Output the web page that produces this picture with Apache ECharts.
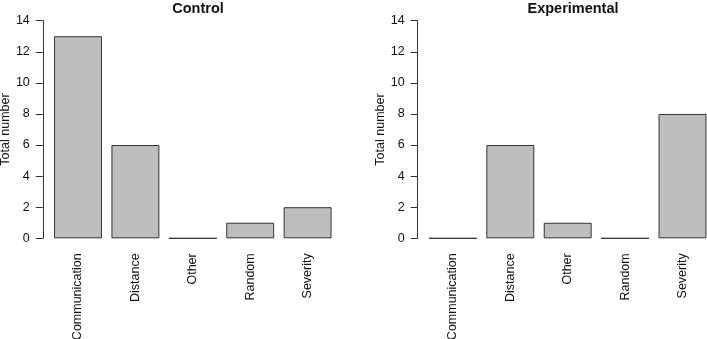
<!DOCTYPE html>
<html>
<head>
<meta charset="utf-8">
<script src="https://cdn.jsdelivr.net/npm/echarts@6/dist/echarts.min.js"></script>
<style>html,body{margin:0;padding:0;background:#fff}#c{width:707px;height:339px}</style>
</head>
<body>
<div id="c"></div>
<script>
const categories = ["Communication", "Distance", "Other", "Random", "Severity"];
const controlValues = [13, 6, 0, 1, 2];
const experimentalValues = [0, 6, 1, 0, 8];
const panelTitles = ["Control", "Experimental"];
const yAxisName = "Total number";

const chart = echarts.init(document.getElementById('c'), null, {renderer: 'canvas'});
const font = '"Liberation Sans", Arial, Helvetica, sans-serif';
const grids = [
  {left: 49.3, top: 20.7, width: 287, height: 217.6, outerBoundsMode: 'none', containLabel: false},
  {left: 424.2, top: 20.7, width: 287, height: 217.6, outerBoundsMode: 'none', containLabel: false}
];
function xAxis(i) {
  return {
    type: 'category', gridIndex: i, data: categories,
    axisLine: {show: false}, axisTick: {show: false},
    axisLabel: {rotate: 90, interval: 0, margin: 15, fontFamily: font, fontSize: 12.5, color: '#111'}
  };
}
function yAxis(i) {
  return {
    type: 'value', gridIndex: i, min: 0, max: 14, interval: 2, offset: 6.5,
    name: yAxisName, nameLocation: 'middle', nameGap: 31,
    nameTextStyle: {fontFamily: font, fontSize: 12.5, color: '#111'},
    axisLine: {show: true, lineStyle: {color: '#333', width: 1}},
    axisTick: {show: true, length: 7, lineStyle: {color: '#333', width: 1}},
    axisLabel: {margin: 13, fontFamily: font, fontSize: 12.5, color: '#111'},
    splitLine: {show: false}
  };
}
function series(i, vals) {
  return {
    type: 'bar', xAxisIndex: i, yAxisIndex: i, data: vals, barWidth: '83.5%',
    itemStyle: {color: '#bebebe', borderColor: '#333', borderWidth: 1},
    silent: true, animation: false
  };
}
chart.setOption({
  animation: false,
  title: [
    {text: panelTitles[0], left: 193, top: -4, textAlign: 'center',
     textStyle: {fontFamily: font, fontSize: 14.5, fontWeight: 'bold', color: '#111'}},
    {text: panelTitles[1], left: 568, top: -4, textAlign: 'center',
     textStyle: {fontFamily: font, fontSize: 14.5, fontWeight: 'bold', color: '#111'}}
  ],
  grid: grids,
  xAxis: [xAxis(0), xAxis(1)],
  yAxis: [yAxis(0), yAxis(1)],
  series: [series(0, controlValues), series(1, experimentalValues)]
});
</script>
</body>
</html>
